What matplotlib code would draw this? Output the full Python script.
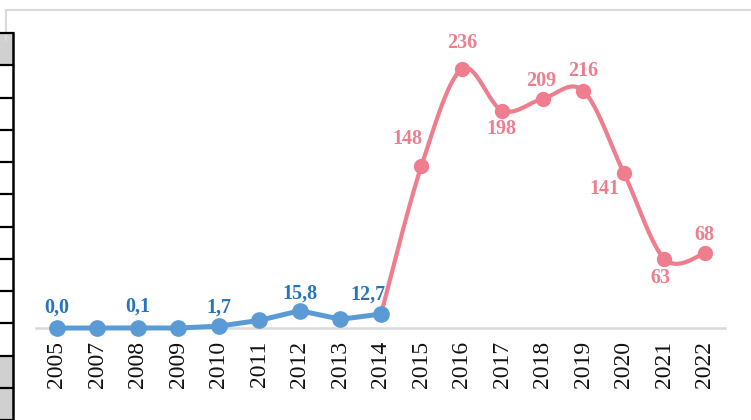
import numpy as np
import matplotlib
matplotlib.use("Agg")
import matplotlib.pyplot as plt

years = ["2005", "2007", "2008", "2009", "2010", "2011", "2012", "2013", "2014",
         "2015", "2016", "2017", "2018", "2019", "2020", "2021", "2022"]
blue_vals = [0.0, 0.0, 0.1, 0.0, 1.7, 7.0, 15.8, 8.0, 12.7]
pink_vals = [12.7, 148, 236, 198, 209, 216, 141, 63, 68]
blue_labels = {0: "0,0", 2: "0,1", 4: "1,7", 6: "15,8", 8: "12,7"}
pink_labels = ["", "148", "236", "198", "209", "216", "141", "63", "68"]

BLUE = "#5B9BD5"
BLUE_TXT = "#2474C0"
PINK = "#EE7D8E"
SERIF = ["Liberation Serif", "DejaVu Serif"]

def catmull(x, y, n=30):
    x = np.asarray(x, float)
    y = np.asarray(y, float)
    px = np.concatenate([[x[0]], x, [x[-1]]])
    py = np.concatenate([[y[0]], y, [y[-1]]])
    xs, ys = [], []
    t = np.linspace(0, 1, n)
    for i in range(1, len(px) - 2):
        for p, out in ((px, xs), (py, ys)):
            p0, p1, p2, p3 = p[i - 1], p[i], p[i + 1], p[i + 2]
            seg = 0.5 * ((2 * p1) + (-p0 + p2) * t + (2 * p0 - 5 * p1 + 4 * p2 - p3) * t ** 2
                         + (-p0 + 3 * p1 - 3 * p2 + p3) * t ** 3)
            out.extend(seg)
    return np.array(xs), np.array(ys)

fig = plt.figure(figsize=(7.51, 4.20), dpi=100)

# pixel overlay for frame / spreadsheet bits
bg = fig.add_axes([0, 0, 1, 1])
bg.set_xlim(0, 751)
bg.set_ylim(420, 0)
bg.axis("off")
bg.plot([6, 751], [10, 10], color="#D9D9D9", lw=1.5)
bg.plot([6, 6], [10, 40], color="#D9D9D9", lw=1.5)
bg.add_patch(plt.Rectangle((0, 33), 13, 387, color="white", lw=0, zorder=0.5))
bg.add_patch(plt.Rectangle((0, 33), 13, 32, color="#D0D0D0", lw=0, zorder=0.6))
bg.add_patch(plt.Rectangle((0, 355), 13, 65, color="#D0D0D0", lw=0, zorder=0.6))
for yy in np.arange(33, 421, 32.25):
    bg.plot([0, 13], [yy, yy], color="black", lw=1.6)
bg.plot([13, 13], [33, 420], color="black", lw=1.8)
bg.plot([36, 725], [328, 328], color="#D9D9D9", lw=1.8)

ax = fig.add_axes([0, 0, 1, 1])
ax.patch.set_alpha(0)
ax.set_xlim(-1.407, 17.136)
ax.set_ylim(-83.8, 298.9)
ax.axis("off")

xb = np.arange(len(blue_vals))
xp = np.arange(8, 8 + len(pink_vals))

sx, sy = catmull(xp, pink_vals)
ax.plot(sx, sy, color=PINK, lw=3.0, solid_capstyle="round", zorder=2)
ax.plot(xp[1:], pink_vals[1:], "o", color=PINK, ms=10, zorder=3)
ax.plot(xb, blue_vals, color=BLUE, lw=3.6, marker="o", ms=11, zorder=4)

for i, lab in enumerate(years):
    ax.annotate(lab, (i, 0), xytext=(0, -13), textcoords="offset pixels",
                rotation=90, ha="center", va="top", fontsize=17,
                family=SERIF, color="#111111")

boffs = {0: (0, 20.5), 2: (0, 21), 4: (0, 19), 6: (0, 17.5), 8: (-13, 20)}
for i, lab in blue_labels.items():
    ax.annotate(lab, (xb[i], blue_vals[i]), xytext=boffs[i], textcoords="offset pixels",
                ha="center", va="center", fontsize=14.5, fontweight="bold",
                family=SERIF, color=BLUE_TXT)

poffs = [None, (-14, 27), (0, 26), (-1, -18), (-2, 17.5), (0, 20), (-20, -16), (-4, -19), (-1, 18)]
for i, lab in enumerate(pink_labels):
    if not lab:
        continue
    ax.annotate(lab, (xp[i], pink_vals[i]), xytext=poffs[i], textcoords="offset pixels",
                ha="center", va="center", fontsize=14.5, fontweight="bold",
                family=SERIF, color=PINK)

fig.savefig("out.png", dpi=100)
